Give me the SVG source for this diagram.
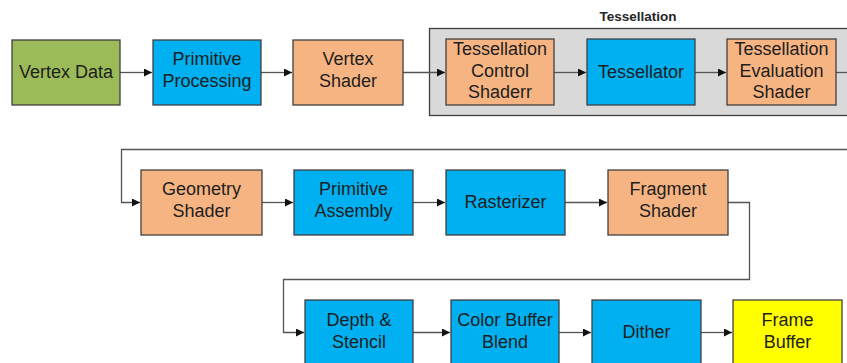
<svg xmlns="http://www.w3.org/2000/svg" width="847" height="363" viewBox="0 0 847 363">
  <style>
    .box { stroke: #404040; stroke-width: 1.3; }
    .green { fill: #9BBB59; }
    .blue { fill: #00B0F0; }
    .orange { fill: #F6B482; }
    .yellow { fill: #FFFF00; }
    .label { font-family: "Liberation Sans", Arial, sans-serif; font-size: 18px; fill: #1e1e1e; text-anchor: middle; }
    .title { font-family: "Liberation Sans", Arial, sans-serif; font-size: 13.5px; font-weight: bold; fill: #262626; text-anchor: middle; }
    .wire { fill: none; stroke: #555555; stroke-width: 1.3; }
  </style>
  <defs>
    <marker id="arrow" viewBox="0 0 10 10" refX="10" refY="5" markerWidth="8" markerHeight="8" markerUnits="userSpaceOnUse" orient="auto">
      <path d="M0,0 L10,5 L0,10 z" fill="#111111"/>
    </marker>
  </defs>
  <rect width="847" height="363" fill="#ffffff"/>

  <!-- Tessellation stage container -->
  <g id="tessellation-group">
    <rect x="429.5" y="28.5" width="430" height="87" fill="#D9D9D9" stroke="#404040" stroke-width="1.3"/>
    <text class="title" x="638" y="21">Tessellation</text>
  </g>

  <!-- connectors -->
  <g id="connectors">
    <path class="wire" d="M120,72.5 H152" marker-end="url(#arrow)"/>
    <path class="wire" d="M261,72.5 H292" marker-end="url(#arrow)"/>
    <path class="wire" d="M403,72.5 H445" marker-end="url(#arrow)"/>
    <path class="wire" d="M554,72.5 H586" marker-end="url(#arrow)"/>
    <path class="wire" d="M695,72.5 H726" marker-end="url(#arrow)"/>
    <path class="wire" d="M836,72.5 H850"/>
    <path class="wire" d="M850,149.5 H121.5 V202.5 H140" marker-end="url(#arrow)"/>
    <path class="wire" d="M262,202.5 H293" marker-end="url(#arrow)"/>
    <path class="wire" d="M413,202.5 H445" marker-end="url(#arrow)"/>
    <path class="wire" d="M565,202.5 H607" marker-end="url(#arrow)"/>
    <path class="wire" d="M728,202.5 H749.5 V279.5 H283.5 V332.5 H304" marker-end="url(#arrow)"/>
    <path class="wire" d="M413,332.5 H450" marker-end="url(#arrow)"/>
    <path class="wire" d="M559,332.5 H591" marker-end="url(#arrow)"/>
    <path class="wire" d="M701,332.5 H732" marker-end="url(#arrow)"/>
  </g>

  <!-- row 1 -->
  <g id="vertex-data">
    <rect class="box green" x="12" y="40" width="108" height="65"/>
    <text class="label" x="66" y="78">Vertex Data</text>
  </g>
  <g id="primitive-processing">
    <rect class="box blue" x="153" y="40" width="108" height="65"/>
    <text class="label" x="207" y="65">Primitive</text>
    <text class="label" x="207" y="87">Processing</text>
  </g>
  <g id="vertex-shader">
    <rect class="box orange" x="293" y="40" width="110" height="65"/>
    <text class="label" x="348" y="65">Vertex</text>
    <text class="label" x="348" y="87">Shader</text>
  </g>
  <g id="tessellation-control-shader">
    <rect class="box orange" x="446" y="39" width="108" height="66"/>
    <text class="label" x="500" y="55">Tessellation</text>
    <text class="label" x="500" y="77">Control</text>
    <text class="label" x="500" y="98">Shaderr</text>
  </g>
  <g id="tessellator">
    <rect class="box blue" x="587" y="39" width="108" height="66"/>
    <text class="label" x="641" y="78">Tessellator</text>
  </g>
  <g id="tessellation-evaluation-shader">
    <rect class="box orange" x="727" y="39" width="109" height="66"/>
    <text class="label" x="781.5" y="55">Tessellation</text>
    <text class="label" x="781.5" y="77">Evaluation</text>
    <text class="label" x="781.5" y="98">Shader</text>
  </g>

  <!-- row 2 -->
  <g id="geometry-shader">
    <rect class="box orange" x="141" y="170" width="121" height="65"/>
    <text class="label" x="201.5" y="195">Geometry</text>
    <text class="label" x="201.5" y="217">Shader</text>
  </g>
  <g id="primitive-assembly">
    <rect class="box blue" x="294" y="170" width="119" height="65"/>
    <text class="label" x="353.5" y="195">Primitive</text>
    <text class="label" x="353.5" y="217">Assembly</text>
  </g>
  <g id="rasterizer">
    <rect class="box blue" x="446" y="170" width="119" height="65"/>
    <text class="label" x="505.5" y="208">Rasterizer</text>
  </g>
  <g id="fragment-shader">
    <rect class="box orange" x="608" y="170" width="120" height="65"/>
    <text class="label" x="668" y="195">Fragment</text>
    <text class="label" x="668" y="217">Shader</text>
  </g>

  <!-- row 3 -->
  <g id="depth-stencil">
    <rect class="box blue" x="305" y="300" width="108" height="66"/>
    <text class="label" x="359" y="326">Depth &amp;</text>
    <text class="label" x="359" y="348">Stencil</text>
  </g>
  <g id="color-buffer-blend">
    <rect class="box blue" x="451" y="300" width="108" height="66"/>
    <text class="label" x="505" y="326">Color Buffer</text>
    <text class="label" x="505" y="348">Blend</text>
  </g>
  <g id="dither">
    <rect class="box blue" x="592" y="300" width="109" height="66"/>
    <text class="label" x="646.5" y="338">Dither</text>
  </g>
  <g id="frame-buffer">
    <rect class="box yellow" x="733" y="300" width="109" height="66"/>
    <text class="label" x="787.5" y="326">Frame</text>
    <text class="label" x="787.5" y="348">Buffer</text>
  </g>
</svg>
